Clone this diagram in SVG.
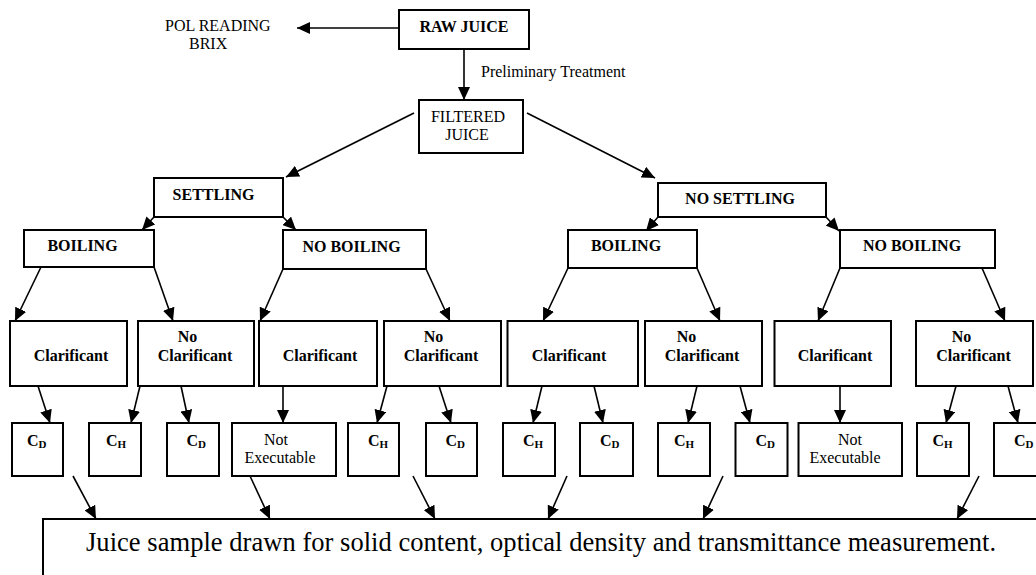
<svg xmlns="http://www.w3.org/2000/svg" width="1036" height="575" viewBox="0 0 1036 575">
  <defs>
    <marker id="ah" markerUnits="userSpaceOnUse" markerWidth="14" markerHeight="12" refX="13" refY="6" orient="auto">
      <path d="M0,0 L13,6 L0,12 Z" fill="#000"/>
    </marker>
    <style>
      .box { fill: #fff; stroke: #000; stroke-width: 2; }
      .t { font-family: "Liberation Serif", "Times New Roman", serif; font-size: 16px; fill: #000; }
      .b { font-weight: bold; }
      .m { text-anchor: middle; }
      .sub { font-size: 11px; }
      .big { font-size: 26.5px; }
      #connectors line { stroke: #000; stroke-width: 1.6; marker-end: url(#ah); }
    </style>
  </defs>
  <rect width="1036" height="575" fill="#fff"/>

  <!-- connectors -->
  <g id="connectors">
    <line x1="399" y1="28" x2="297" y2="28"/>
    <line x1="464" y1="49" x2="464" y2="100"/>
    <line x1="414" y1="113" x2="286" y2="177"/>
    <line x1="527" y1="113" x2="655" y2="178"/>
    <line x1="154" y1="217" x2="142" y2="230"/>
    <line x1="283" y1="217" x2="296" y2="230"/>
    <line x1="658" y1="217" x2="646" y2="231"/>
    <line x1="826" y1="217" x2="839" y2="231"/>

    <line x1="41" y1="267" x2="15" y2="321"/>
    <line x1="154" y1="267" x2="173" y2="321"/>
    <line x1="283" y1="269" x2="260" y2="321"/>
    <line x1="426" y1="269" x2="450" y2="321"/>
    <line x1="568" y1="268" x2="543" y2="321"/>
    <line x1="697" y1="268" x2="720" y2="321"/>
    <line x1="840" y1="268" x2="818" y2="321"/>
    <line x1="982" y1="268" x2="1005" y2="321"/>

    <line x1="38" y1="386" x2="50" y2="423"/>
    <line x1="140" y1="386" x2="131" y2="423"/>
    <line x1="181" y1="386" x2="189" y2="423"/>
    <line x1="283" y1="386" x2="283" y2="423"/>
    <line x1="387" y1="386" x2="377" y2="423"/>
    <line x1="439" y1="386" x2="451" y2="423"/>
    <line x1="542" y1="386" x2="533" y2="423"/>
    <line x1="594" y1="386" x2="603" y2="423"/>
    <line x1="697" y1="386" x2="688" y2="423"/>
    <line x1="740" y1="386" x2="750" y2="423"/>
    <line x1="840" y1="386" x2="840" y2="423"/>
    <line x1="956" y1="386" x2="946" y2="423"/>
    <line x1="1008" y1="386" x2="1018" y2="423"/>

    <line x1="73" y1="476" x2="96" y2="519"/>
    <line x1="250" y1="476" x2="270" y2="519"/>
    <line x1="413" y1="476" x2="435" y2="519"/>
    <line x1="567" y1="476" x2="548" y2="519"/>
    <line x1="723" y1="476" x2="703" y2="519"/>
    <line x1="979" y1="476" x2="957" y2="519"/>
  </g>

  <!-- top of the tree -->
  <g id="pol-brix">
    <text class="t" x="165" y="31">POL READING</text>
    <text class="t" x="189" y="49">BRIX</text>
  </g>
  <g id="raw-juice">
    <rect class="box" x="399" y="10" width="130" height="39"/>
    <text class="t b m" x="464" y="32">RAW JUICE</text>
  </g>
  <g id="pretreatment-label">
    <text class="t" x="481" y="77">Preliminary Treatment</text>
  </g>
  <g id="filtered-juice">
    <rect class="box" x="419" y="100" width="104" height="53"/>
    <text class="t m" x="468" y="122">FILTERED</text>
    <text class="t m" x="467" y="140">JUICE</text>
  </g>

  <!-- settling branch -->
  <g id="settling">
    <rect class="box" x="154" y="178" width="129" height="39"/>
    <text class="t b m" x="213.5" y="200">SETTLING</text>
  </g>
  <g id="no-settling">
    <rect class="box" x="658" y="183" width="168" height="34"/>
    <text class="t b m" x="740" y="204">NO SETTLING</text>
  </g>

  <!-- boiling level -->
  <g id="s-boiling">
    <rect class="box" x="24" y="230" width="130" height="37"/>
    <text class="t b m" x="82.5" y="251">BOILING</text>
  </g>
  <g id="s-no-boiling">
    <rect class="box" x="283" y="230" width="143" height="39"/>
    <text class="t b m" x="351.5" y="252">NO BOILING</text>
  </g>
  <g id="ns-boiling">
    <rect class="box" x="568" y="230" width="129" height="38"/>
    <text class="t b m" x="626" y="251">BOILING</text>
  </g>
  <g id="ns-no-boiling">
    <rect class="box" x="840" y="230" width="155" height="38"/>
    <text class="t b m" x="912" y="251">NO BOILING</text>
  </g>

  <!-- clarificant level -->
  <g id="clar-1">
    <rect class="box" x="10" y="321" width="117" height="65"/>
    <text class="t b m" x="71" y="361">Clarificant</text>
  </g>
  <g id="noclar-1">
    <rect class="box" x="138" y="321" width="116" height="65"/>
    <text class="t b m" x="187.5" y="342">No</text>
    <text class="t b m" x="195" y="361">Clarificant</text>
  </g>
  <g id="clar-2">
    <rect class="box" x="259" y="321" width="118" height="65"/>
    <text class="t b m" x="320" y="361">Clarificant</text>
  </g>
  <g id="noclar-2">
    <rect class="box" x="384" y="321" width="117" height="65"/>
    <text class="t b m" x="433.5" y="342">No</text>
    <text class="t b m" x="441" y="361">Clarificant</text>
  </g>
  <g id="clar-3">
    <rect class="box" x="507.5" y="321" width="130.5" height="65"/>
    <text class="t b m" x="569" y="361">Clarificant</text>
  </g>
  <g id="noclar-3">
    <rect class="box" x="645" y="321" width="117" height="65"/>
    <text class="t b m" x="686.5" y="342">No</text>
    <text class="t b m" x="702" y="361">Clarificant</text>
  </g>
  <g id="clar-4">
    <rect class="box" x="774.5" y="321" width="116.5" height="65"/>
    <text class="t b m" x="835" y="361">Clarificant</text>
  </g>
  <g id="noclar-4">
    <rect class="box" x="916" y="321" width="117" height="65"/>
    <text class="t b m" x="961.5" y="342">No</text>
    <text class="t b m" x="973.5" y="361">Clarificant</text>
  </g>

  <!-- outcome level -->
  <g id="out-1">
    <rect class="box" x="12" y="423" width="51" height="53"/>
    <text class="t b" x="27" y="446">C<tspan class="sub" dy="2">D</tspan></text>
  </g>
  <g id="out-2">
    <rect class="box" x="89" y="423" width="52" height="53"/>
    <text class="t b" x="106" y="446">C<tspan class="sub" dy="2">H</tspan></text>
  </g>
  <g id="out-3">
    <rect class="box" x="167" y="423" width="52" height="53"/>
    <text class="t b" x="186.5" y="446">C<tspan class="sub" dy="2">D</tspan></text>
  </g>
  <g id="out-4">
    <rect class="box" x="232" y="423" width="104" height="53"/>
    <text class="t m" x="276" y="445">Not</text>
    <text class="t m" x="280" y="463">Executable</text>
  </g>
  <g id="out-5">
    <rect class="box" x="348" y="423" width="51" height="53"/>
    <text class="t b" x="368" y="446">C<tspan class="sub" dy="2">H</tspan></text>
  </g>
  <g id="out-6">
    <rect class="box" x="426" y="423" width="51" height="53"/>
    <text class="t b" x="445.5" y="446">C<tspan class="sub" dy="2">D</tspan></text>
  </g>
  <g id="out-7">
    <rect class="box" x="503" y="423" width="52" height="53"/>
    <text class="t b" x="523" y="446">C<tspan class="sub" dy="2">H</tspan></text>
  </g>
  <g id="out-8">
    <rect class="box" x="580" y="423" width="53" height="53"/>
    <text class="t b" x="600" y="446">C<tspan class="sub" dy="2">D</tspan></text>
  </g>
  <g id="out-9">
    <rect class="box" x="658" y="423" width="52" height="53"/>
    <text class="t b" x="674" y="446">C<tspan class="sub" dy="2">H</tspan></text>
  </g>
  <g id="out-10">
    <rect class="box" x="735.5" y="423" width="52" height="53"/>
    <text class="t b" x="755.5" y="446">C<tspan class="sub" dy="2">D</tspan></text>
  </g>
  <g id="out-11">
    <rect class="box" x="798.5" y="423" width="103.5" height="53"/>
    <text class="t m" x="850" y="445">Not</text>
    <text class="t m" x="845" y="463">Executable</text>
  </g>
  <g id="out-12">
    <rect class="box" x="917" y="423" width="52" height="53"/>
    <text class="t b" x="932.5" y="446">C<tspan class="sub" dy="2">H</tspan></text>
  </g>
  <g id="out-13">
    <rect class="box" x="994" y="423" width="52" height="53"/>
    <text class="t b" x="1014" y="446">C<tspan class="sub" dy="2">D</tspan></text>
  </g>

  <!-- sampling step -->
  <g id="sampling">
    <rect class="box" x="43" y="519" width="1010" height="70"/>
    <text class="t big" x="86" y="551" textLength="910">Juice sample drawn for solid content, optical density and transmittance measurement.</text>
  </g>
</svg>
